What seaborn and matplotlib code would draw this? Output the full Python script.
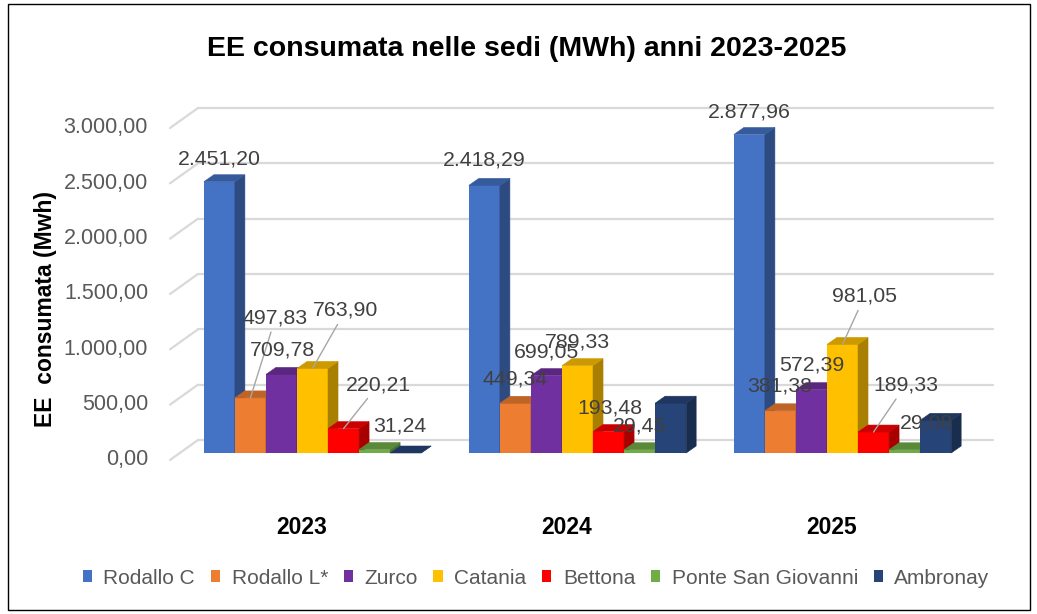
import pandas as pd
import seaborn as sns
import matplotlib.pyplot as plt
from matplotlib.patches import Polygon, Rectangle, Patch
from matplotlib.colors import to_rgb

# ==================== dati ====================
anni = ['2023', '2024', '2025']
sedi = ['Rodallo C', 'Rodallo L*', 'Zurco', 'Catania', 'Bettona', 'Ponte San Giovanni', 'Ambronay']
rodallo_c = [2451.20, 2418.29, 2877.96]
rodallo_l = [497.83, 449.34, 381.38]
zurco = [709.78, 699.05, 572.39]
catania = [763.90, 789.33, 981.05]
bettona = [220.21, 193.48, 189.33]
ponte_sg = [31.24, 29.45, 29.08]
ambronay = [0.0, 450.0, 295.0]   # senza etichette nel grafico originale
y_ticks = [0, 500, 1000, 1500, 2000, 2500, 3000]

colori = ['#4472C4', '#ED7D31', '#7030A0', '#FFC000', '#FF0000', '#70AD47', '#264478']

valori = [rodallo_c, rodallo_l, zurco, catania, bettona, ponte_sg, ambronay]
df = pd.DataFrame([(a, s, v[i]) for s, v in zip(sedi, valori) for i, a in enumerate(anni)],
                  columns=['anno', 'sede', 'MWh'])

# posizione etichette (pixel rispetto al centro del bordo superiore), con linea guida
etichette = {
    (0, 0): (0, 23, False), (1, 0): (25, 80, True), (2, 0): (1, 24, False),
    (3, 0): (33, 58, True), (4, 0): (35, 44, True), (5, 0): (25, 24, False),
    (0, 1): (0, 25, False), (1, 1): (0, 24, False), (2, 1): (0, 24, False),
    (3, 1): (0, 24, False), (4, 1): (1, 24, False), (5, 1): (0, 24, False),
    (0, 2): (0, 23, False), (1, 2): (-1, 25, False), (2, 2): (0, 25, False),
    (3, 2): (22, 48, True), (4, 2): (32, 47, True), (5, 2): (22, 27, False),
}


def it(v):
    return f"{v:,.2f}".replace(',', 'X').replace('.', ',').replace('X', '.')


def scuro(c, f):
    r, g, b = to_rgb(c)
    return (r * f, g * f, b * f)


sns.set_theme(style='white')
plt.rcParams['font.family'] = ['Liberation Sans', 'DejaVu Sans']

W, H = 1037, 614
fig = plt.figure(figsize=(W / 100, H / 100), dpi=100)
ax = fig.add_axes([180 / W, 1 - 453 / H, 795 / W, 332 / H])

sns.barplot(data=df, x='anno', y='MWh', hue='sede', hue_order=sedi, order=anni,
            palette=colori, saturation=1, width=0.82, gap=0, linewidth=0,
            legend=False, ax=ax)

ax.set_xlim(-0.5, 2.5)
ax.set_ylim(0, 3000)
for s in ax.spines.values():
    s.set_visible(False)
ax.set_xticks([])
ax.set_yticks([])
ax.set_xlabel('')
ax.set_ylabel('')

# conversione pixel -> unità dati
p0 = ax.transData.transform((0, 0))
px_x = ax.transData.transform((1, 0))[0] - p0[0]
px_y = ax.transData.transform((0, 1))[1] - p0[1]
ox, oy = 10 / px_x, 7 / px_y          # profondità barre
bx, by = 18 / px_x, 13 / px_y         # parete di fondo
fx, fy = -10 / px_x, -7 / px_y        # bordo anteriore

# griglia sulla parete di fondo
for v in y_ticks:
    ax.plot([-0.5 + bx, 2.5 + bx], [v + by, v + by], color='#D9D9D9', lw=1.6,
            zorder=0, clip_on=False, solid_capstyle='round')
    ax.plot([-0.5 + fx, -0.5 + bx], [v + fy, v + by], color='#D9D9D9', lw=1.6,
            zorder=0, clip_on=False, solid_capstyle='round')
    ax.annotate(it(v), xy=(0, v), xycoords=ax.get_yaxis_transform(),
                xytext=(-32, -7), textcoords='offset pixels', ha='right', va='center',
                fontsize=15.5, color='#595959')

# barre 3D: facce laterali e superiori
for k, cont in enumerate(ax.containers):
    col = colori[k]
    for j, bar in enumerate(cont):
        x0, w, h = bar.get_x(), bar.get_width(), bar.get_height()
        z = 2 + k * 3
        bar.set_zorder(z)
        lato = Polygon([(x0 + w, 0), (x0 + w + ox, oy), (x0 + w + ox, h + oy), (x0 + w, h)],
                       closed=True, fc=scuro(col, 0.66), ec=scuro(col, 0.66), lw=0.4,
                       zorder=z + 1, clip_on=False)
        sopra = Polygon([(x0, h), (x0 + w, h), (x0 + w + ox, h + oy), (x0 + ox, h + oy)],
                        closed=True, fc=scuro(col, 0.8), ec=scuro(col, 0.8), lw=0.4,
                        zorder=z + 1, clip_on=False)
        ax.add_patch(lato)
        ax.add_patch(sopra)

        if (k, j) in etichette:
            dx, dy, guida = etichette[(k, j)]
            ax.annotate(it(h), xy=(x0 + w / 2, h), xytext=(dx, dy), textcoords='offset pixels',
                        ha='center', va='center', fontsize=15.3, color='#404040', zorder=60,
                        annotation_clip=False,
                        arrowprops=dict(arrowstyle='-', color='#A6A6A6', lw=1,
                                        shrinkA=1, shrinkB=0) if guida else None)

# etichette degli anni
for i, a in enumerate(anni):
    ax.annotate(a, xy=(i, 0), xycoords=ax.get_xaxis_transform(), xytext=(-11, -75),
                textcoords='offset pixels', ha='center', va='center',
                fontsize=16.5, fontweight='bold', color='black')

ax.set_ylabel('EE  consumata (Mwh)', fontsize=16.5, fontweight='bold', color='black')
ax.yaxis.set_label_coords(-0.155, 0.434)

fig.suptitle('EE consumata nelle sedi (MWh) anni 2023-2025', x=0.508, y=1 - 49 / H,
             va='center', fontsize=20.5, fontweight='bold', color='black')

handles = [Patch(facecolor=c, edgecolor='none') for c in colori]
fig.legend(handles, sedi, loc='center', bbox_to_anchor=(0.517, 1 - 578 / H), ncol=7,
           frameon=False, fontsize=15, labelcolor='#595959', handlelength=0.45,
           handleheight=0.45, handletextpad=0.55, columnspacing=0.75)

fig.add_artist(Rectangle((8 / W, 4 / H), 1022 / W, 606 / H, transform=fig.transFigure,
                         fill=False, ec='black', lw=1))

fig.savefig('out.png', dpi=100)
